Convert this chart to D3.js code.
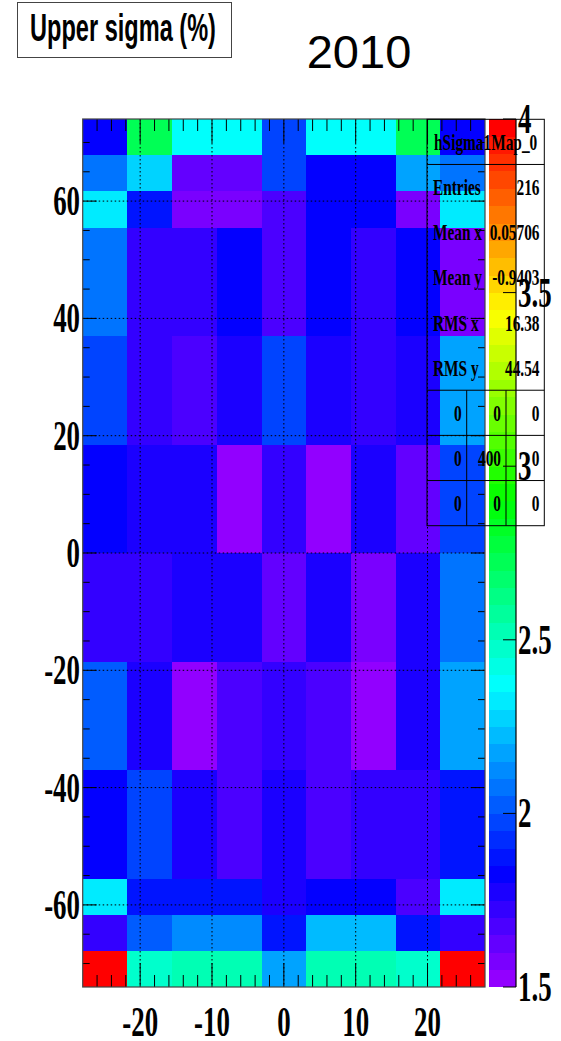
<!DOCTYPE html>
<html>
<head>
<meta charset="utf-8">
<script src="https://cdn.jsdelivr.net/npm/d3@7"></script>
<style>
  html, body { margin: 0; padding: 0; background: #fff; }
  svg { display: block; }
</style>
</head>
<body>
<svg id="chart" width="561" height="1041"></svg>
<script>
// ---- histogram binning (phi along x, eta-like along y) ----
const xEdges = [-28, -21.78, -15.56, -9.33, -3.11, 3.11, 9.33, 15.56, 21.78, 28];
const yEdges = [74, 67.83, 61.67, 55.5, 37, 18.5, 0, -18.5, -37, -55.5, -61.67, -67.83, -74];

// ---- upper sigma (%) per cell, one list per y bin, top row first ----
const rowTop1 = [1.83, 2.73, 2.38, 2.38, 1.98, 2.38, 2.38, 2.73, 1.83];
const rowTop2 = [2.08, 2.28, 1.62, 1.62, 1.98, 1.83, 1.83, 2.18, 2.08];
const rowTop3 = [2.33, 1.88, 1.58, 1.58, 1.68, 1.83, 1.83, 1.58, 2.33];
const rowUpperOuter = [2.08, 1.73, 1.73, 1.83, 1.68, 1.83, 1.73, 1.83, 1.58];
const rowUpperMid = [1.98, 1.73, 1.68, 1.78, 1.98, 1.78, 1.73, 1.78, 2.18];
const rowUpperInner = [1.83, 1.78, 1.78, 1.53, 1.73, 1.53, 1.78, 1.62, 1.98];
const rowLowerInner = [1.73, 1.73, 1.78, 1.78, 1.62, 1.78, 1.58, 1.78, 2.08];
const rowLowerMid = [2.03, 1.78, 1.53, 1.68, 1.73, 1.68, 1.53, 1.78, 2.18];
const rowLowerOuter = [1.83, 1.98, 1.78, 1.68, 1.78, 1.68, 1.73, 1.73, 1.88];
const rowBottom3 = [2.33, 1.88, 1.88, 1.88, 1.78, 1.83, 1.83, 1.68, 2.33];
const rowBottom2 = [1.73, 2.03, 2.12, 2.12, 1.88, 2.23, 2.23, 1.88, 1.73];
const rowBottom1 = [3.98, 2.48, 2.52, 2.52, 2.18, 2.52, 2.52, 2.48, 3.98];
const upperSigma = [rowTop1, rowTop2, rowTop3, rowUpperOuter, rowUpperMid, rowUpperInner,
                    rowLowerInner, rowLowerMid, rowLowerOuter, rowBottom3, rowBottom2, rowBottom1];

// ---- axes and labels ----
const xTickLabels = [-20, -10, 0, 10, 20];
const yTickLabels = [-60, -40, -20, 0, 20, 40, 60];
const zTickLabels = [1.5, 2, 2.5, 3, 3.5, 4];
const zRange = [1.5, 4];
const nContours = 50;

// ---- statistics box ----
const statTitle = "hSigma1Map_0";
const statNames = ["Entries", "Mean x", "Mean y", "RMS x", "RMS y"];
const statValues = ["216", "0.05706", "-0.9403", "16.38", "44.54"];
const overflowTable = [["0", "0", "0"], ["0", "400", "0"], ["0", "0", "0"]];

const titleText = "Upper sigma (%)";
const yearText = "2010";

// ---------------------------------------------------------------
const svg = d3.select("#chart");
const frame = { left: 82.7, right: 485, top: 119, bottom: 987 };
const bar = { left: 488.5, right: 516 };

const x = d3.scaleLinear().domain([-28, 28]).range([frame.left, frame.right]);
const y = d3.scaleLinear().domain([-74, 74]).range([frame.bottom, frame.top]);
const z = d3.scaleLinear().domain(zRange).range([frame.bottom, frame.top]);

// ROOT "pretty" palette: 50 hues from violet (280) down to red (0), HLS l=0.5 s=1
const palette = d3.range(nContours).map(i => d3.hsl(280 - (i + 1) * (280 / 50), 1, 0.5).formatHex());
const color = d3.scaleQuantize().domain(zRange).range(palette);

const serif = "'Liberation Serif', 'Times New Roman', serif";
const sans = "'Liberation Sans', Arial, Helvetica, sans-serif";
const squeeze = 0.64;
const plain = v => String(v); // ASCII hyphen for negatives

function narrowText(sel, tx, ty, str, anchor, size, family, weight) {
  return sel.append("text")
    .attr("transform", `translate(${tx},${ty}) scale(${squeeze},1)`)
    .attr("text-anchor", anchor)
    .attr("font-family", family)
    .attr("font-weight", weight || "bold")
    .attr("font-size", size)
    .attr("fill", "#000")
    .text(str);
}

// ---- cells ----
const cells = [];
upperSigma.forEach((row, r) => {
  row.forEach((v, c) => {
    cells.push({ x0: xEdges[c], x1: xEdges[c + 1], y0: yEdges[r + 1], y1: yEdges[r], v });
  });
});

svg.append("g").attr("class", "cells")
  .selectAll("rect").data(cells).join("rect")
  .attr("x", d => x(d.x0))
  .attr("y", d => y(d.y1))
  .attr("width", d => x(d.x1) - x(d.x0) + 0.4)
  .attr("height", d => y(d.y0) - y(d.y1) + 0.4)
  .attr("fill", d => color(d.v))
  .attr("shape-rendering", "crispEdges");

// ---- grid ----
const grid = svg.append("g").attr("class", "grid")
  .attr("stroke", "#000").attr("stroke-width", 1).attr("stroke-dasharray", "1.5,2.5");
grid.selectAll("line.gx").data(xTickLabels).join("line").attr("class", "gx")
  .attr("x1", d => x(d)).attr("x2", d => x(d))
  .attr("y1", frame.top).attr("y2", frame.bottom);
grid.selectAll("line.gy").data(yTickLabels).join("line").attr("class", "gy")
  .attr("y1", d => y(d)).attr("y2", d => y(d))
  .attr("x1", frame.left).attr("x2", frame.right);

// ---- ticks (inside the frame, on all four sides) ----
const ticks = svg.append("g").attr("class", "ticks").attr("stroke", "#000").attr("stroke-width", 1);
const xMinor = d3.range(-26, 27, 2);
const yMinor = d3.range(-70, 71, 5);
const xLen = v => (v % 10 === 0 ? 24 : 12);
const yLen = v => (v % 20 === 0 ? 14 : 7);
ticks.selectAll("line.xb").data(xMinor).join("line").attr("class", "xb")
  .attr("x1", d => x(d)).attr("x2", d => x(d))
  .attr("y1", frame.bottom).attr("y2", d => frame.bottom - xLen(d));
ticks.selectAll("line.xt").data(xMinor).join("line").attr("class", "xt")
  .attr("x1", d => x(d)).attr("x2", d => x(d))
  .attr("y1", frame.top).attr("y2", d => frame.top + xLen(d));
ticks.selectAll("line.yl").data(yMinor).join("line").attr("class", "yl")
  .attr("y1", d => y(d)).attr("y2", d => y(d))
  .attr("x1", frame.left).attr("x2", d => frame.left + yLen(d));
ticks.selectAll("line.yr").data(yMinor).join("line").attr("class", "yr")
  .attr("y1", d => y(d)).attr("y2", d => y(d))
  .attr("x1", frame.right).attr("x2", d => frame.right - yLen(d));

// ---- frame ----
svg.append("rect")
  .attr("x", frame.left).attr("y", frame.top)
  .attr("width", frame.right - frame.left).attr("height", frame.bottom - frame.top)
  .attr("fill", "none").attr("stroke", "#444").attr("stroke-width", 1.2);

// ---- axis labels ----
const labels = svg.append("g").attr("class", "labels");
xTickLabels.forEach(v => narrowText(labels, x(v), 1036, plain(v), "middle", 42, serif));
yTickLabels.forEach(v => narrowText(labels, 80, y(v) + 14, plain(v), "end", 42, serif));

// ---- colour bar ----
const cbar = svg.append("g").attr("class", "colorbar");
cbar.selectAll("rect").data(palette).join("rect")
  .attr("x", bar.left)
  .attr("width", bar.right - bar.left)
  .attr("y", c => z(color.invertExtent(c)[1]))
  .attr("height", c => z(color.invertExtent(c)[0]) - z(color.invertExtent(c)[1]) + 0.4)
  .attr("fill", c => c)
  .attr("shape-rendering", "crispEdges");
cbar.append("line")
  .attr("x1", bar.right).attr("x2", bar.right)
  .attr("y1", z(zRange[0])).attr("y2", z(zRange[1]))
  .attr("stroke", "#000").attr("stroke-width", 1.2);
cbar.selectAll("line.zt").data(zTickLabels).join("line").attr("class", "zt")
  .attr("x1", bar.right).attr("x2", bar.right - 13)
  .attr("y1", d => z(d)).attr("y2", d => z(d))
  .attr("stroke", "#000").attr("stroke-width", 1);
zTickLabels.forEach(v => narrowText(cbar, bar.right + 2, z(v) + 14, plain(v), "start", 42, serif));

// ---- statistics box (no fill) ----
const stats = { left: 427, right: 544.3, top: 119.3, bottom: 525.7 };
const rowH = (stats.bottom - stats.top) / 9;
const sb = svg.append("g").attr("class", "stats");
sb.append("rect")
  .attr("x", stats.left).attr("y", stats.top)
  .attr("width", stats.right - stats.left).attr("height", stats.bottom - stats.top)
  .attr("fill", "none").attr("stroke", "#000").attr("stroke-width", 1);
[1, 6, 7, 8].forEach(k => {
  sb.append("line")
    .attr("x1", stats.left).attr("x2", stats.right)
    .attr("y1", stats.top + k * rowH).attr("y2", stats.top + k * rowH)
    .attr("stroke", "#000").attr("stroke-width", 1);
});
const colEdges = [stats.left, 466.7, 506, stats.right];
[1, 2].forEach(k => {
  sb.append("line")
    .attr("x1", colEdges[k]).attr("x2", colEdges[k])
    .attr("y1", stats.top + 6 * rowH).attr("y2", stats.bottom)
    .attr("stroke", "#000").attr("stroke-width", 1);
});
narrowText(sb, (stats.left + stats.right) / 2, stats.top + rowH / 2 + 8, statTitle, "middle", 24, serif);
statNames.forEach((name, i) => {
  const cy = stats.top + (i + 1.5) * rowH + 8;
  narrowText(sb, 433, cy, name, "start", 24, serif);
  narrowText(sb, 539.5, cy, statValues[i], "end", 24, serif);
});
overflowTable.forEach((row, r) => {
  row.forEach((val, c) => {
    narrowText(sb, colEdges[c + 1] - 5, stats.top + (r + 6.5) * rowH + 8, val, "end", 24, serif);
  });
});

// ---- title box and year ----
svg.append("rect")
  .attr("x", 17.5).attr("y", 2.5).attr("width", 214).attr("height", 55)
  .attr("fill", "#fff").attr("stroke", "#444").attr("stroke-width", 1);
svg.append("text")
  .attr("transform", `translate(123,41) scale(0.62,1)`)
  .attr("text-anchor", "middle")
  .attr("font-family", sans).attr("font-weight", "bold").attr("font-size", 38)
  .text(titleText);
svg.append("text")
  .attr("x", 359).attr("y", 68)
  .attr("text-anchor", "middle")
  .attr("font-family", sans).attr("font-size", 47)
  .text(yearText);
</script>
</body>
</html>
